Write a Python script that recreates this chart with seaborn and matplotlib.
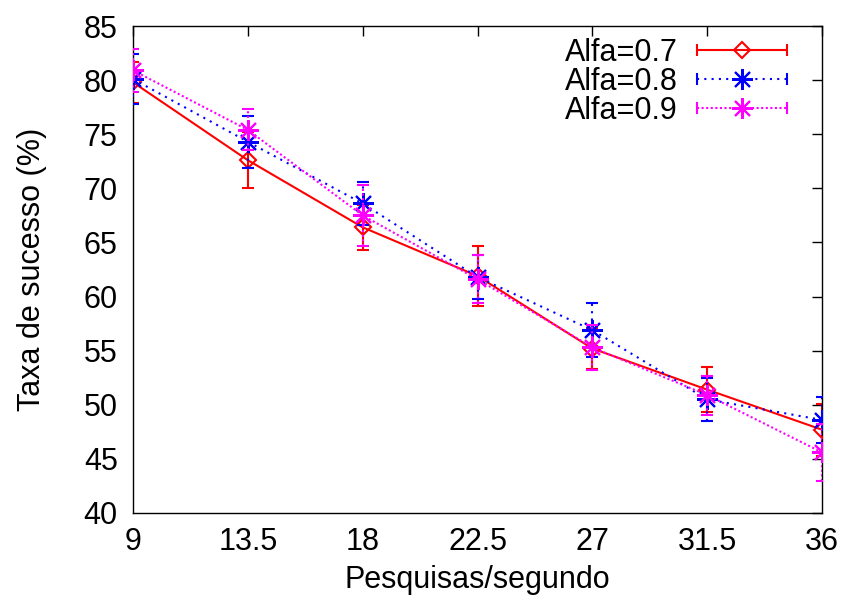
import numpy as np
import pandas as pd
import matplotlib
matplotlib.use("Agg")
import matplotlib.pyplot as plt
import seaborn as sns
from matplotlib.lines import Line2D
from matplotlib.legend_handler import HandlerBase

x_vals = [9, 13.5, 18, 22.5, 27, 31.5, 36]
x_ticks = [9, 13.5, 18, 22.5, 27, 31.5, 36]
x_ticklabels = ["9", "13.5", "18", "22.5", "27", "31.5", "36"]

series_names = ["Alfa=0.7", "Alfa=0.8", "Alfa=0.9"]
alfa07 = [79.8, 72.6, 66.4, 61.9, 55.2, 51.4, 47.7]
alfa07_err = [1.9, 2.6, 2.1, 2.8, 1.9, 2.1, 2.4]
alfa08 = [80.1, 74.3, 68.6, 61.8, 56.9, 50.5, 48.6]
alfa08_err = [2.3, 2.4, 2.0, 2.0, 2.5, 2.0, 2.1]
alfa09 = [80.9, 75.4, 67.5, 61.6, 55.3, 50.9, 45.6]
alfa09_err = [2.0, 1.9, 2.8, 2.2, 2.1, 1.8, 2.6]

sns.set_theme(style="white")
plt.rcParams["font.family"] = ["Liberation Sans", "DejaVu Sans"]
plt.rcParams["text.color"] = "black"
plt.rcParams["axes.labelcolor"] = "black"
FS = 22
plt.rcParams["font.size"] = FS

errs = [alfa07_err, alfa08_err, alfa09_err]
colors = ["#ff0000", "#0000ff", "#ff00ff"]
styles = ["-", (0, (1, 2.5)), (0, (1, 1.2))]
markers = ["D", (8, 2, 0), (8, 2, 0)]
msizes = [8, 15, 15]

df = pd.DataFrame({
    "x": x_vals * 3,
    "y": alfa07 + alfa08 + alfa09,
    "s": sum([[n] * len(x_vals) for n in series_names], []),
})

fig = plt.figure(figsize=(8.47, 5.97), dpi=100)
ax = fig.add_axes([133 / 847, 1 - 513 / 597, (822 - 133) / 847, (513 - 26) / 597])


class HandlerEB(HandlerBase):
    def __init__(self, ls, **kw):
        super().__init__(**kw)
        self.ls = ls

    def create_artists(self, legend, orig_handle, xdescent, ydescent, width, height,
                       fontsize, trans):
        y = height / 2 - ydescent
        x0, x1 = -xdescent, width - xdescent
        line = Line2D([x0, x1], [y, y], color=orig_handle.get_color(),
                      linestyle=self.ls, linewidth=1.5)
        caps = Line2D([x0, x1], [y, y], color=orig_handle.get_color(), linestyle="none",
                      marker="|", markersize=9, markeredgewidth=1.5)
        mk = Line2D([(x0 + x1) / 2], [y], linestyle="none",
                    marker=orig_handle.get_marker(),
                    markersize=orig_handle.get_markersize(),
                    markerfacecolor=orig_handle.get_markerfacecolor(),
                    markeredgecolor=orig_handle.get_markeredgecolor(),
                    markeredgewidth=1.5)
        for a in (line, caps, mk):
            a.set_transform(trans)
        return [line, caps, mk]


handles = []
hmap = {}
for i, name in enumerate(series_names):
    sub = df[df["s"] == name]
    eb = ax.errorbar(sub["x"], sub["y"], yerr=errs[i], fmt="none", ecolor=colors[i],
                     elinewidth=1.5, capsize=4.5, capthick=1.5, zorder=2 + i)
    for lc in eb[2]:
        lc.set_linestyle(styles[i])
    sns.lineplot(data=sub, x="x", y="y", ax=ax, color=colors[i], linestyle=styles[i],
                 linewidth=1.5, marker=markers[i], markersize=msizes[i],
                 markerfacecolor="none" if i == 0 else colors[i],
                 markeredgecolor=colors[i], markeredgewidth=1.5, zorder=3 + i,
                 legend=False)
    h = Line2D([], [], color=colors[i], linestyle="-", linewidth=1.5,
               marker=markers[i], markersize=msizes[i],
               markerfacecolor="none" if i == 0 else colors[i],
               markeredgecolor=colors[i], markeredgewidth=1.5)
    handles.append(h)
    hmap[h] = HandlerEB(styles[i])

ax.legend(handles, series_names, handler_map=hmap, loc="upper right",
          frameon=False, markerfirst=False, handlelength=2.95, handletextpad=0.62,
          labelspacing=-0.04, fontsize=FS, borderaxespad=0.0, borderpad=0.0,
          bbox_to_anchor=(0.949, 0.975))

ax.set_xlim(9, 36)
ax.set_ylim(40, 85)
ax.set_xticks(x_ticks)
ax.set_xticklabels(x_ticklabels)
ax.set_yticks(np.arange(40, 86, 5))
ax.tick_params(direction="in", length=7, width=1, top=True, right=True,
               labelsize=FS, colors="black", pad=10)
ax.tick_params(axis="y", pad=11)
for sp in ax.spines.values():
    sp.set_color("black")
    sp.set_linewidth(1)
ax.set_xlabel("Pesquisas/segundo", fontsize=FS, labelpad=6)
ax.set_ylabel("Taxa de sucesso (%)", fontsize=FS, labelpad=26)

fig.savefig("out.png", dpi=100)
